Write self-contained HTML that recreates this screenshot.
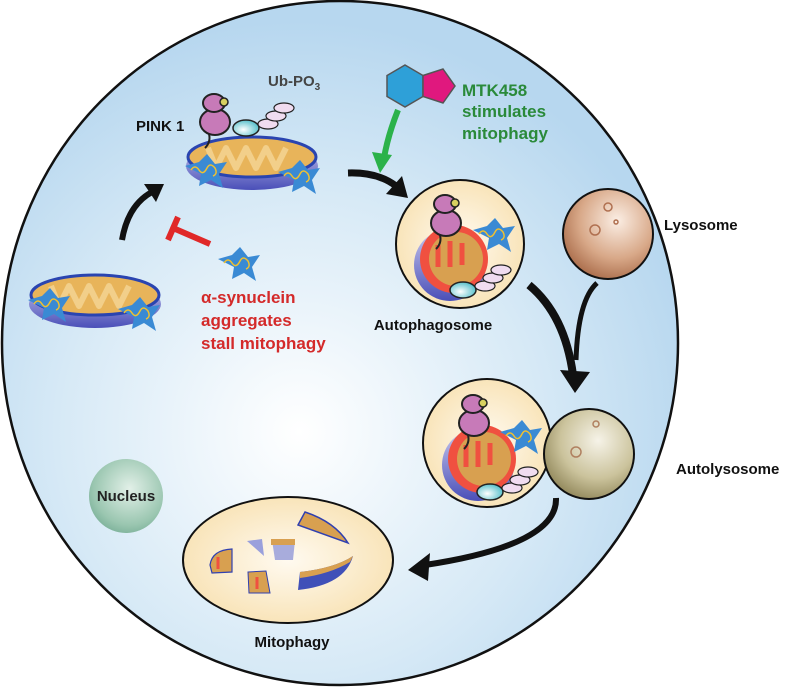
<!DOCTYPE html>
<html><head><meta charset="utf-8"><style>
html,body{margin:0;padding:0;background:#fff;width:793px;height:687px;overflow:hidden}
svg{display:block}
text{font-family:"Liberation Sans",Arial,sans-serif;font-weight:bold}
</style></head><body>
<svg width="793" height="687" viewBox="0 0 793 687" xmlns="http://www.w3.org/2000/svg">
<defs>
<radialGradient id="cell" cx="0.44" cy="0.63" r="0.6">
<stop offset="0" stop-color="#ffffff"/><stop offset="0.6" stop-color="#d6e9f6"/><stop offset="1" stop-color="#b7d7ef"/>
</radialGradient>
<radialGradient id="vac" cx="0.5" cy="0.5" r="0.55">
<stop offset="0" stop-color="#fffaf0"/><stop offset="1" stop-color="#f8e2b4"/>
</radialGradient>
<radialGradient id="lyso" cx="0.6" cy="0.35" r="0.7">
<stop offset="0" stop-color="#fbeee4"/><stop offset="0.6" stop-color="#d8a888"/><stop offset="1" stop-color="#a86a48"/>
</radialGradient>
<radialGradient id="lyso2" cx="0.6" cy="0.35" r="0.7">
<stop offset="0" stop-color="#f6f3e8"/><stop offset="0.6" stop-color="#cbc39c"/><stop offset="1" stop-color="#8f8558"/>
</radialGradient>
<radialGradient id="nuc" cx="0.55" cy="0.4" r="0.7">
<stop offset="0" stop-color="#e2f0e8"/><stop offset="0.7" stop-color="#9ac6b0"/><stop offset="1" stop-color="#6fa890"/>
</radialGradient>
<linearGradient id="mitoB" x1="0" y1="0" x2="0" y2="1">
<stop offset="0" stop-color="#c8c8ee"/><stop offset="1" stop-color="#4a4fb8"/>
</linearGradient>
<radialGradient id="cy" cx="0.4" cy="0.6" r="0.7"><stop offset="0" stop-color="#ffffff"/><stop offset="1" stop-color="#3fb7c4"/></radialGradient>
<g id="mito">
<ellipse cx="0" cy="6" rx="66" ry="24" fill="url(#mitoB)"/>
<ellipse cx="0" cy="-3" rx="64" ry="20" fill="#e8b45a" stroke="#2a44b0" stroke-width="3"/>
<path d="M-44,-12 L-36,8 L-26,-12 L-16,8 L-6,-12 L4,8 L14,-12 L24,8 L34,-12" fill="none" stroke="#f2cf8a" stroke-width="6" stroke-linejoin="round"/>
</g>
<g id="syn">
<path d="M-20,-6 L-6,-10 L2,-18 L10,-8 L22,-10 L14,2 L18,16 L6,8 L-6,14 L-4,2 Z" fill="#3a8ad4"/>
<path d="M-14,-2 q4,-6 8,0 q4,6 8,-2 q3,-6 8,0 q3,6 -2,8" fill="none" stroke="#f0c030" stroke-width="1.5"/>
</g>
<g id="pink">
<ellipse cx="0" cy="0" rx="15" ry="13" fill="#c77ab8" stroke="#222" stroke-width="2"/>
<ellipse cx="-1" cy="-19" rx="11" ry="9" fill="#c77ab8" stroke="#222" stroke-width="2"/>
<circle cx="9" cy="-20" r="4" fill="#d8d060" stroke="#222" stroke-width="1.5"/>
<path d="M-6,12 q2,8 -4,14" stroke="#222" stroke-width="2" fill="none"/>
</g>
<g id="ub">
<ellipse cx="0" cy="0" rx="13" ry="8" fill="url(#cy)" stroke="#222" stroke-width="1.5"/>
<ellipse cx="22" cy="-4" rx="10" ry="5" fill="#f0dcf0" stroke="#222" stroke-width="1.2"/>
<ellipse cx="30" cy="-12" rx="10" ry="5" fill="#f0dcf0" stroke="#222" stroke-width="1.2"/>
<ellipse cx="38" cy="-20" rx="10" ry="5" fill="#f0dcf0" stroke="#222" stroke-width="1.2"/>
</g>
<g id="enc">
<circle cx="0" cy="10" r="36" fill="url(#mitoB)"/>
<circle cx="4" cy="4" r="34" fill="#f05040"/>
<circle cx="6" cy="4" r="27" fill="#d8a050"/>
<path d="M-12,-10 v22 M0,-14 v26 M12,-12 v22" stroke="#f05040" stroke-width="5"/>
</g>
</defs>
<ellipse cx="340" cy="343" rx="338" ry="342" fill="url(#cell)" stroke="#111" stroke-width="2.5"/>

<use href="#mito" x="252" y="160"/>
<use href="#syn" x="205" y="172"/>
<use href="#syn" x="298" y="178"/>
<use href="#pink" x="215" y="122"/>
<use href="#ub" x="246" y="128"/>
<text x="136" y="131" font-size="15" fill="#111">PINK 1</text>
<text x="268" y="86" font-size="15" fill="#444" font-weight="normal">Ub-PO<tspan font-size="10" dy="4">3</tspan></text>

<use href="#mito" x="95" y="298"/>
<use href="#syn" x="48" y="306"/>
<use href="#syn" x="138" y="315"/>
<path d="M122,240 Q128,205 152,192" fill="none" stroke="#111" stroke-width="6"/>
<polygon points="164,184 144,184 156,202" fill="#111"/>
<line x1="210" y1="244" x2="173" y2="228" stroke="#e02828" stroke-width="6"/>
<line x1="178" y1="217" x2="168" y2="240" stroke="#e02828" stroke-width="6"/>
<use href="#syn" x="238" y="265"/>
<g fill="#d42a2a" font-size="17"><text x="201" y="303">α-synuclein</text><text x="201" y="326">aggregates</text><text x="201" y="349">stall mitophagy</text></g>

<polygon points="405,65 423,75.5 423,96.5 405,107 387,96.5 387,75.5" fill="#2ea0d8" stroke="#555" stroke-width="1.5"/>
<polygon points="423,75.5 443,69 455,86 443,103 423,96.5" fill="#e0187e" stroke="#555" stroke-width="1.5"/>
<g fill="#2a8a3a" font-size="17"><text x="462" y="96">MTK458</text><text x="462" y="117">stimulates</text><text x="462" y="139">mitophagy</text></g>
<path d="M398,110 Q388,135 384,158" fill="none" stroke="#2bb24a" stroke-width="6"/>
<polygon points="372,152 392,155 380,173" fill="#2bb24a"/>
<path d="M348,173 Q378,172 396,186" fill="none" stroke="#111" stroke-width="7"/>
<polygon points="408,198 386,194 402,176" fill="#111"/>

<circle cx="460" cy="244" r="64" fill="url(#vac)" stroke="#111" stroke-width="2"/>
<use href="#enc" x="450" y="255"/>
<use href="#syn" x="493" y="236"/>
<use href="#pink" x="446" y="223"/>
<use href="#ub" x="463" y="290"/>
<text x="433" y="330" font-size="15" fill="#111" text-anchor="middle">Autophagosome</text>

<circle cx="608" cy="234" r="45" fill="url(#lyso)" stroke="#111" stroke-width="2"/>
<g fill="none" stroke="#b07050" stroke-width="1.5"><circle cx="595" cy="230" r="5"/><circle cx="608" cy="207" r="4"/><circle cx="616" cy="222" r="2"/></g>
<text x="664" y="230" font-size="15" fill="#111">Lysosome</text>

<path d="M529,285 Q565,315 573,375" fill="none" stroke="#111" stroke-width="8"/>
<path d="M597,283 Q578,300 576,360" fill="none" stroke="#111" stroke-width="5"/>
<polygon points="560,370 590,372 575,393" fill="#111"/>

<circle cx="487" cy="443" r="64" fill="url(#vac)" stroke="#111" stroke-width="2"/>
<use href="#enc" x="478" y="455"/>
<use href="#syn" x="520" y="438"/>
<use href="#pink" x="474" y="423"/>
<use href="#ub" x="490" y="492"/>
<circle cx="589" cy="454" r="45" fill="url(#lyso2)" stroke="#111" stroke-width="2"/>
<g fill="none" stroke="#b08060" stroke-width="1.5"><circle cx="576" cy="452" r="5"/><circle cx="596" cy="424" r="3"/></g>
<text x="676" y="474" font-size="15" fill="#111">Autolysosome</text>

<path d="M556,498 Q558,545 425,565" fill="none" stroke="#111" stroke-width="6"/>
<polygon points="408,570 430,553 428,581" fill="#111"/>

<circle cx="126" cy="496" r="37" fill="url(#nuc)"/>
<text x="126" y="501" font-size="15" fill="#222" text-anchor="middle">Nucleus</text>

<ellipse cx="288" cy="560" rx="105" ry="63" fill="url(#vac)" stroke="#111" stroke-width="2"/>
<path d="M298,525 L305,512 Q335,522 348,543 Z" fill="#d8a050" stroke="#3040b0" stroke-width="1.5"/>
<path d="M300,572 Q335,568 353,556 Q345,585 298,590 Z" fill="#4050b8"/>
<path d="M300,572 Q335,568 353,556 L350,562 Q330,574 300,578 Z" fill="#d8a050"/>
<path d="M210,565 Q212,550 232,549 L232,572 L212,573 Z" fill="#d8a050" stroke="#3040b0" stroke-width="1.2"/>
<path d="M247,541 L262,539 L264,556 Z" fill="#9aa0dc"/>
<path d="M272,540 L295,540 L293,560 L275,560 Z" fill="#a8acdc"/>
<rect x="271" y="539" width="24" height="6" fill="#d8a050"/>
<path d="M248,572 L266,571 L270,593 L249,593 Z" fill="#d8a050" stroke="#3040b0" stroke-width="1"/>
<path d="M257,577 v12 M218,557 v12" stroke="#f05040" stroke-width="3"/>
<text x="292" y="647" font-size="15" fill="#111" text-anchor="middle">Mitophagy</text>
</svg>
</body></html>
